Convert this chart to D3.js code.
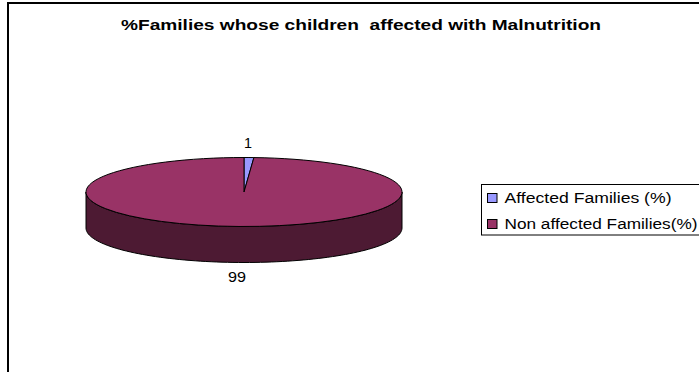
<!DOCTYPE html>
<html><head><meta charset="utf-8">
<script src="https://cdn.jsdelivr.net/npm/d3@7"></script>
<style>html,body{margin:0;padding:0;background:#fff}svg{display:block}text{font-family:"Liberation Sans",Arial,sans-serif;fill:#000}</style>
</head><body><svg id="c" width="699" height="372"></svg>
<script>
const chartTitle = "%Families whose children  affected with Malnutrition";
const categories = ["Affected Families (%)", "Non affected Families(%)"];
const values = [1, 99];
const colors = ["#9999ff", "#993366"];
const sideColor = "#4d1a33";

const svg = d3.select("#c");
const W = 699, H = 372, cx = 244, cy = 192, rx = 158, ry = 34.5, depth = 36;
const pt = (a, dy = 0) => [cx + rx * Math.sin(a), cy - ry * Math.cos(a) + dy];

// chart frame (right and bottom edges fall outside the picture)
svg.append("path").attr("d", `M8,${H}V3H${W}`).attr("fill", "none").attr("stroke", "#000").attr("stroke-width", 2);

svg.append("text").attr("x", 121).attr("y", 30)
  .attr("font-size", 14).attr("font-weight", "bold").attr("xml:space", "preserve")
  .attr("textLength", 480).attr("lengthAdjust", "spacingAndGlyphs")
  .style("white-space", "pre").text(chartTitle);

const arcs = d3.pie().sort(null).value(d => d)(values);

// side wall of the disc
const angles = d3.range(Math.PI / 2, 3 * Math.PI / 2 + 0.001, Math.PI / 90);
const edge = angles.map(a => pt(a)).concat(angles.slice().reverse().map(a => pt(a, depth)));
svg.append("path").attr("d", d3.line()(edge) + "Z").attr("fill", sideColor).attr("stroke", "#000").attr("stroke-width", 1);

// top face
const arc = d3.arc().innerRadius(0).outerRadius(rx);
svg.append("g").attr("transform", `translate(${cx},${cy}) scale(1,${ry / rx})`)
  .selectAll("path").data(arcs).join("path")
  .attr("d", arc).attr("fill", (d, i) => colors[i])
  .attr("stroke", "#000").attr("stroke-width", 1).attr("vector-effect", "non-scaling-stroke");

// data labels
const labelPos = [[244, 148], [228, 282]];
const labelWidth = [8, 18];
svg.selectAll("text.lab").data(values).join("text").attr("class", "lab")
  .attr("x", (d, i) => labelPos[i][0]).attr("y", (d, i) => labelPos[i][1])
  .attr("font-size", 14).attr("textLength", (d, i) => labelWidth[i]).attr("lengthAdjust", "spacingAndGlyphs")
  .text(d => d);

// legend
svg.append("rect").attr("x", 481.5).attr("y", 184.5).attr("width", 230).attr("height", 50.5)
  .attr("fill", "#fff").attr("stroke", "#000").attr("stroke-width", 1);
const legendWidth = [167, 193];
const leg = svg.selectAll("g.leg").data(categories).join("g").attr("class", "leg")
  .attr("transform", (d, i) => `translate(487,${198 + i * 26})`);
leg.append("rect").attr("x", 0.5).attr("y", -4.5).attr("width", 9.5).attr("height", 9)
  .attr("fill", (d, i) => colors[i]).attr("stroke", "#000");
leg.append("text").attr("x", 17.5).attr("y", 5).attr("font-size", 14)
  .attr("textLength", (d, i) => legendWidth[i]).attr("lengthAdjust", "spacingAndGlyphs").text(d => d);
</script></body></html>
